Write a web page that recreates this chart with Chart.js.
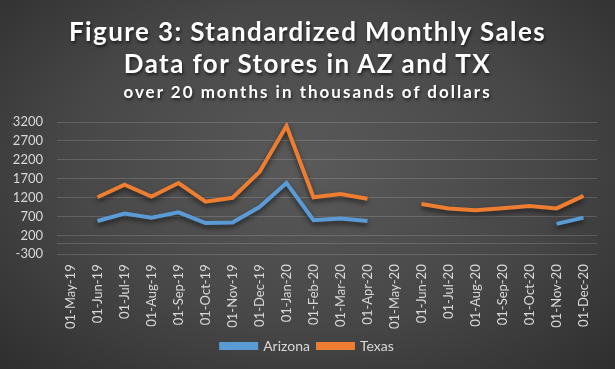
<!DOCTYPE html>
<html>
<head>
<meta charset="utf-8">
<script src="https://cdn.jsdelivr.net/npm/chart.js@4"></script>
<style>
  html, body { margin: 0; padding: 0; }
  body {
    width: 615px; height: 369px; overflow: hidden;
    background: radial-gradient(ellipse at 50% 45%, #5a5a5a 0%, #474747 55%, #2e2e2e 100%);
    font-family: 'Lato', sans-serif;
  }
  #wrap { position: relative; width: 615px; height: 369px; }
  #wrap canvas { position: absolute; left: 0; top: 0; }
  .title {
    position: absolute; left: 0; width: 615px; text-align: center;
    color: #fff; font-weight: bold; white-space: nowrap;
    text-shadow: 1px 2px 3px rgba(0,0,0,0.6);
  }
  .t1 { font-size: 26px; letter-spacing: 1.4px; line-height: 32px; }
  .t2 { font-size: 17px; letter-spacing: 2px; line-height: 20px; }
</style>
</head>
<body>
<div id="wrap">
  <canvas id="salesChart"></canvas>
  <div class="title t1" style="top:15px">Figure 3: Standardized Monthly Sales</div>
  <div class="title t1" style="top:47px">Data for Stores in AZ and TX</div>
  <div class="title t2" style="top:82px">over 20 months in thousands of dollars</div>
</div>
<script>
// ===== DATA =====
const months = ['01-May-19', '01-Jun-19', '01-Jul-19', '01-Aug-19', '01-Sep-19', '01-Oct-19',
  '01-Nov-19', '01-Dec-19', '01-Jan-20', '01-Feb-20', '01-Mar-20', '01-Apr-20', '01-May-20',
  '01-Jun-20', '01-Jul-20', '01-Aug-20', '01-Sep-20', '01-Oct-20', '01-Nov-20', '01-Dec-20'];
const arizona = [null, 580, 780, 670, 810, 525, 540, 950, 1585, 600, 650, 580, null,
  null, null, null, null, null, 505, 670];
const texas = [null, 1210, 1540, 1230, 1585, 1090, 1195, 1880, 3095, 1210, 1295, 1170, null,
  1030, 910, 865, 920, 975, 915, 1245];
const yTicks = [-300, 200, 700, 1200, 1700, 2200, 2700, 3200];

const gridColor = 'rgba(255,255,255,0.15)';
const textColor = '#d9d9d9';

// axis line sits at 0 like in excel
const zeroLine = {
  id: 'zeroLine',
  beforeDatasetsDraw(chart) {
    const y = chart.scales.y.getPixelForValue(0);
    const ctx = chart.ctx;
    ctx.save();
    ctx.strokeStyle = gridColor;
    ctx.lineWidth = 1;
    ctx.beginPath();
    ctx.moveTo(chart.chartArea.left, Math.round(y) + 0.5);
    ctx.lineTo(chart.chartArea.right, Math.round(y) + 0.5);
    ctx.stroke();
    ctx.restore();
  }
};

// soft shadow under the lines
const lineShadow = {
  id: 'lineShadow',
  beforeDatasetsDraw(chart) {
    chart.ctx.save();
    chart.ctx.shadowColor = 'rgba(0,0,0,0.55)';
    chart.ctx.shadowBlur = 5;
    chart.ctx.shadowOffsetY = 3;
  },
  afterDatasetsDraw(chart) {
    chart.ctx.restore();
  }
};

const ctx = document.getElementById('salesChart');
new Chart(ctx, {
  type: 'line',
  data: {
    labels: months,
    datasets: [{
      label: 'Arizona',
      data: arizona,
      borderColor: '#5b9bd5',
      backgroundColor: '#5b9bd5',
      borderWidth: 4,
      pointRadius: 0,
      tension: 0,
      spanGaps: false
    }, {
      label: 'Texas',
      data: texas,
      borderColor: '#ed7d31',
      backgroundColor: '#ed7d31',
      borderWidth: 4,
      pointRadius: 0,
      tension: 0,
      spanGaps: false
    }]
  },
  options: {
    responsive: true,
    maintainAspectRatio: false,
    animation: false,
    layout: { padding: { left: 0, right: 0, top: 122, bottom: 6 } },
    plugins: {
      legend: {
        position: 'bottom',
        labels: {
          color: textColor,
          boxWidth: 35,
          boxHeight: 4,
          padding: 8,
          font: { family: 'Lato', size: 14 }
        }
      },
      tooltip: { enabled: false }
    },
    scales: {
      x: {
        offset: true,
        grid: { display: false },
        border: { display: false },
        ticks: {
          color: textColor,
          font: { family: 'Lato', size: 13 },
          minRotation: 90,
          maxRotation: 90,
          autoSkip: false,
          padding: 2
        }
      },
      y: {
        min: -300,
        max: 3200,
        afterBuildTicks(scale) {
          scale.ticks = yTicks.map(v => ({ value: v }));
        },
        afterFit(scale) {
          scale.width = 57;
        },
        grid: { color: gridColor, drawTicks: false },
        border: { display: false },
        ticks: {
          color: textColor,
          font: { family: 'Lato', size: 13 },
          padding: 14,
          autoSkip: false,
          callback: v => String(v)
        }
      },
      // empty right axis, just keeps the plot off the right edge
      yRight: {
        position: 'right',
        display: true,
        grid: { display: false, drawTicks: false },
        border: { display: false },
        ticks: { display: false },
        afterFit(scale) {
          scale.width = 18;
        }
      }
    }
  },
  plugins: [zeroLine, lineShadow]
});
</script>
</body>
</html>
